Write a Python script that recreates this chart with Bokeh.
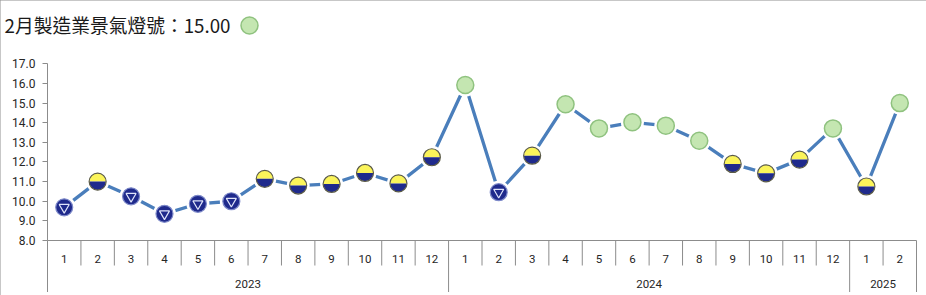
import math
from bokeh.plotting import figure
from bokeh.models import Range1d, FixedTicker, PrintfTickFormatter
from bokeh.core.properties import value
from bokeh.embed import file_html
from bokeh.resources import INLINE

# ---------------- data ----------------
years = ["2023"] * 12 + ["2024"] * 12 + ["2025"] * 2
months = [str(m) for m in range(1, 13)] * 2 + ["1", "2"]
scores = [9.69, 11.0, 10.25, 9.36, 9.87, 10.0, 11.14, 10.8, 10.88, 11.44, 10.91, 12.24,
          15.92, 10.46, 12.32, 14.94, 13.71, 14.02, 13.85, 13.08, 11.9, 11.42, 12.12, 13.71,
          10.75, 15.0]
signals = ["blue", "yb", "blue", "blue", "blue", "blue", "yb", "yb", "yb", "yb", "yb", "yb",
           "green", "blue", "yb", "green", "green", "green", "green", "green", "yb", "yb", "yb", "green",
           "yb", "green"]
year_labels = ["2023", "2024", "2025"]
y_ticks = [8, 9, 10, 11, 12, 13, 14, 15, 16, 17]
title_text = "2月製造業景氣燈號：15.00"

# ---------------- styles / layout constants ----------------
LINE_C = "#4a7ebb"
NAVY = "#1f2a8c"
YELLOW = "#fbf45a"
GREEN_F = "#c4e6b1"
GREEN_L = "#8fc27f"
GRID_C = "#8c8c8c"
TXT_C = "#262626"
FONT = "Roboto"

W, H = 926, 295
AXIS_X_PX, AXIS_END_PX = 47, 916      # pixel columns of the category band
Y_BASE_PX = 240.0                     # pixel row of y = 8
PX_PER_UNIT = 19.63
n = len(months)
CAT_W = (AXIS_END_PX - AXIS_X_PX) / n

def px_to_x(px):
    return (px - AXIS_X_PX) / CAT_W

def px_to_y(py):
    return 8 + (Y_BASE_PX - py) / PX_PER_UNIT

xpos = [i + 0.5 for i in range(n)]          # category centres

p = figure(width=W, height=H,
           x_range=Range1d(px_to_x(0), px_to_x(W)),
           y_range=Range1d(px_to_y(H), px_to_y(0)),
           min_border=0, output_backend="svg", toolbar_location=None)
p.outline_line_color = None
p.xgrid.visible = False
p.ygrid.visible = False
p.background_fill_color = "white"
p.border_fill_color = "white"
p.styles = {"outline": "2px solid #8f8f8f", "outline-offset": "-2px"}

# y axis at the left edge of the category band
ya = p.yaxis[0]
ya.fixed_location = 0
ya.ticker = FixedTicker(ticks=y_ticks)
ya.formatter = PrintfTickFormatter(format="%.1f")
ya.bounds = (8, 17)
ya.axis_line_color = GRID_C
ya.major_tick_line_color = GRID_C
ya.major_tick_out = 5
ya.major_tick_in = 0
ya.minor_tick_line_color = None
ya.major_label_standoff = 7
ya.major_label_text_font = FONT
ya.major_label_text_font_size = "12px"
ya.major_label_text_color = TXT_C

# month axis at y = 8
xa = p.xaxis[0]
xa.fixed_location = 8
xa.bounds = (0, n)
xa.ticker = FixedTicker(ticks=xpos)
xa.major_label_overrides = {x: m for x, m in zip(xpos, months)}
xa.axis_line_color = GRID_C
xa.major_tick_line_color = None
xa.major_tick_out = 0
xa.major_tick_in = 0
xa.minor_tick_line_color = None
xa.major_label_standoff = 14
xa.major_label_text_font = FONT
xa.major_label_text_font_size = "11.5px"
xa.major_label_text_color = TXT_C

# separators of the category table
month_sep_bottom = px_to_y(265)
year_sep_bottom = px_to_y(291.5)
sx, sy1 = [], []
for i in range(n + 1):
    year_edge = i == 0 or i == n or years[i] != years[i - 1]
    sx.append(i)
    sy1.append(year_sep_bottom if year_edge else month_sep_bottom)
p.segment(x0=sx, y0=[8] * len(sx), x1=sx, y1=sy1, line_color=GRID_C, line_width=1)

# year labels centred under their months
year_x = []
for yl in year_labels:
    idx = [x for x, y in zip(xpos, years) if y == yl]
    year_x.append(sum(idx) / len(idx))
p.text(x=year_x, y=[px_to_y(283)] * len(year_labels), text=year_labels,
       text_align="center", text_baseline="middle", text_font=value(FONT),
       text_font_size="11.5px", text_color=TXT_C)

# line
p.line(x=xpos, y=scores, line_color=LINE_C, line_width=3.3)

# white halos
p.scatter(x=xpos, y=scores, size=23, fill_color="white", line_color=None)

def subset(kind):
    xs = [x for x, s in zip(xpos, signals) if s == kind]
    ys = [v for v, s in zip(scores, signals) if s == kind]
    return xs, ys

gx, gy = subset("green")
p.scatter(x=gx, y=gy, size=17, fill_color=GREEN_F, line_color=GREEN_L, line_width=1.5)

bx, by = subset("blue")
p.scatter(x=bx, y=by, size=17, fill_color=NAVY, line_color="#7d89c9", line_width=1.2)
p.scatter(x=bx, y=by, size=10, marker="inverted_triangle", fill_color=NAVY,
          line_color="#dfe4fa", line_width=1.2)

yx, yy = subset("yb")
p.wedge(x=yx, y=yy, radius=8.3, radius_units="screen", start_angle=0, end_angle=math.pi,
        fill_color=YELLOW, line_color=None)
p.wedge(x=yx, y=yy, radius=8.3, radius_units="screen", start_angle=math.pi, end_angle=2 * math.pi,
        fill_color=NAVY, line_color=None)
p.scatter(x=yx, y=yy, size=17, fill_color=None, line_color="#5b5b47", line_width=1.2)

# title and current signal dot
p.text(x=[px_to_x(4)], y=[px_to_y(24)], text=[title_text], text_font=value("Noto Sans CJK TC"),
       text_font_size="18.75px", text_color="#1a1a1a", text_baseline="middle")
p.scatter(x=[px_to_x(249)], y=[px_to_y(25)], size=17, fill_color=GREEN_F, line_color=GREEN_L,
          line_width=1.5)

open("out.html", "w").write(file_html(p, INLINE))
